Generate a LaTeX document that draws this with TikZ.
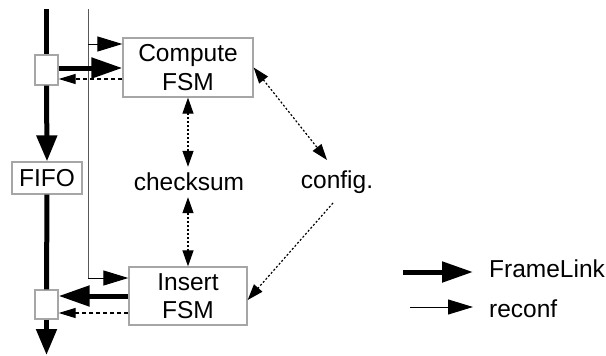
\documentclass[tikz,border=0pt]{standalone}
\usepackage{fontspec}
\setmainfont{Liberation Sans}
\usetikzlibrary{arrows.meta}
\begin{document}
\begin{tikzpicture}[x=1pt,y=-1pt,
  every node/.style={font=\fontsize{24.5}{28.5}\selectfont},
  fsmbox/.style={draw=black!35,line width=1.3pt,inner sep=0pt,align=center},
  smallbox/.style={draw=black!35,line width=1.3pt,inner sep=0pt,minimum width=23pt,minimum height=30pt},
  flink/.style={line width=5pt},
  flinkarrow/.style={line width=5pt,-{Triangle[length=31pt,width=20pt]}},
  downarrow/.style={line width=5pt,-{Triangle[length=26pt,width=20pt]}},
  reconfline/.style={line width=1pt,black!65},
  reconfarrow/.style={line width=1pt,-{Triangle[length=25pt,width=15pt]}},
  backarrow/.style={line width=1.2pt,dash pattern=on 4pt off 3pt,-{Triangle[length=17pt,width=10pt]}},
  dotarrow/.style={line width=1.2pt,dash pattern=on 2pt off 2pt,{Triangle[length=16pt,width=11pt]}-{Triangle[length=16pt,width=11pt]}},
  dotarrowone/.style={line width=1.2pt,dash pattern=on 2pt off 2pt,-{Triangle[length=16pt,width=11pt]}},
  lbl/.style={inner sep=0pt}
]
\useasboundingbox (0,0) rectangle (606,356);

% nodes
\node[smallbox] (topbox) at (46.5,70) {};
\node[fsmbox,minimum width=70pt,minimum height=32pt] (fifo) at (47,178) {FIFO};
\node[smallbox,minimum height=29pt] (botbox) at (46.5,304.5) {};
\node[fsmbox,minimum width=130pt,minimum height=59pt] (compute) at (188,67.5) {Compute\\FSM};
\node[fsmbox,minimum width=118pt,minimum height=58pt] (insert) at (188,296) {Insert\\FSM};
\node[lbl,minimum height=30pt] (checksum) at (189,182) {checksum};
\node[lbl] (config) at (337,182) {config.};

\coordinate (ftop) at (46.5,9);
\coordinate (fbot) at (46.5,355);
\coordinate (vtop) at (88,9);
\coordinate (vbranch) at (88,44);
\coordinate (vbot) at (88,278);

% FrameLink main path
\draw[flink] (ftop) -- (topbox.north);
\draw[downarrow] (topbox.south) -- (fifo.north);
\draw[flink] (fifo.south) -- (botbox.north);
\draw[downarrow] (botbox.south) -- (fbot);

% reconf line
\draw[reconfline] (vtop) -- (vbot);
\draw[reconfarrow] (vbranch) -- (vbranch -| compute.west);
\draw[reconfarrow] (vbot) -- (vbot -| insert.west);

% compute connections
\draw[flinkarrow] ([yshift=2pt]topbox.east) -- ([yshift=2pt]topbox.east -| compute.west);
\draw[backarrow] ([yshift=-9pt]topbox.east -| compute.west) -- ([yshift=-9pt]topbox.east);

% insert connections
\draw[flinkarrow] ([yshift=8.5pt]botbox.east -| insert.west) -- ([yshift=8.5pt]botbox.east);
\draw[backarrow] ([yshift=-8.5pt]botbox.east -| insert.west) -- ([yshift=-8.5pt]botbox.east);

% checksum
\draw[dotarrow] (compute.south) -- (compute.south |- checksum.north);
\draw[dotarrow] (insert.north |- checksum.south) -- (insert.north);

% config
\draw[dotarrow] (compute.east) -- ([shift={(-10pt,22pt)}]config.center);
\draw[dotarrowone] ([shift={(-4pt,-21pt)}]config.center) -- ([yshift=-4pt]insert.east);

% legend
\node[lbl,anchor=west] (lfl) at (489,269) {FrameLink};
\node[lbl,anchor=west] (lrc) at (489,309) {reconf};
\coordinate (lflstart) at (403,272);
\coordinate (lflend) at (473,272);
\coordinate (lrcstart) at (410,307);
\coordinate (lrcend) at (473,307);
\draw[flinkarrow] (lflstart) -- (lflend);
\draw[reconfarrow] (lrcstart) -- (lrcend);
\end{tikzpicture}
\end{document}
